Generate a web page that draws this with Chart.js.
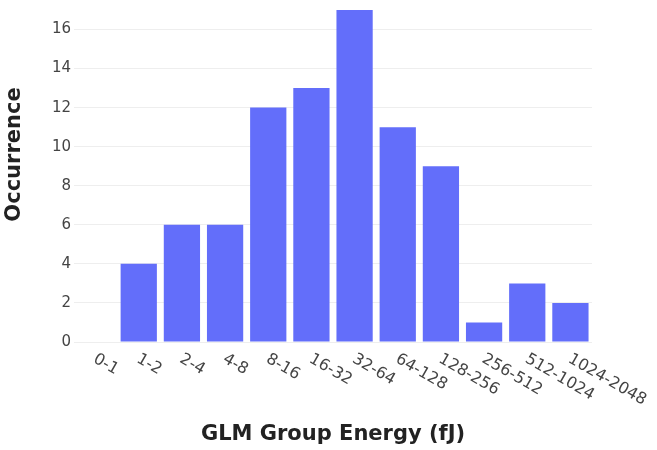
<!DOCTYPE html>
<html>
<head>
<meta charset="utf-8">
<script src="https://cdn.jsdelivr.net/npm/chart.js@4"></script>
<style>
  html, body { margin: 0; padding: 0; background: #fff; }
  #wrap { width: 657px; height: 450px; position: relative; }
</style>
</head>
<body>
<div id="wrap"><canvas id="c" width="657" height="450"></canvas></div>
<script>
const categories = ["0-1", "1-2", "2-4", "4-8", "8-16", "16-32", "32-64", "64-128", "128-256", "256-512", "512-1024", "1024-2048"];
const occurrence = [0, 4, 6, 6, 12, 13, 17, 11, 9, 1, 3, 2];
const yTicks = [0, 2, 4, 6, 8, 10, 12, 14, 16];
const xTitle = "GLM Group Energy (fJ)";
const yTitle = "Occurrence";

const FONT = "'DejaVu Sans', Verdana, sans-serif";

// Draws the rotated category labels and the y title (the original plot is cropped at the top,
// so the y title sits centred on the uncropped plot height).
const extraText = {
  id: 'extraText',
  afterDraw(chart) {
    const ctx = chart.ctx;
    const xs = chart.scales.x;
    const ys = chart.scales.y;
    const area = chart.chartArea;
    ctx.save();
    ctx.font = "16px " + FONT;
    ctx.fillStyle = "#444";
    ctx.textAlign = "left";
    ctx.textBaseline = "middle";
    categories.forEach((lab, i) => {
      const x = xs.getPixelForValue(i) - 1;
      const y = area.bottom + 16;
      ctx.save();
      ctx.translate(x, y);
      ctx.rotate(Math.PI / 6);
      ctx.fillText(lab, 0, 0);
      ctx.restore();
    });
    ctx.font = "bold 21px " + FONT;
    ctx.fillStyle = "#222";
    ctx.textAlign = "center";
    ctx.translate(ys.left + 15, ys.getPixelForValue(9.6));
    ctx.rotate(-Math.PI / 2);
    ctx.fillText(yTitle, 0, 0);
    ctx.restore();
  }
};

new Chart(document.getElementById('c'), {
  type: 'bar',
  data: {
    labels: categories,
    datasets: [{
      data: occurrence,
      backgroundColor: '#636efa',
      borderWidth: 0,
      barPercentage: 0.84,
      categoryPercentage: 1.0
    }]
  },
  options: {
    responsive: false,
    animation: false,
    devicePixelRatio: 1,
    layout: { padding: { top: 8, right: 65, bottom: 3, left: 0 } },
    plugins: { legend: { display: false }, tooltip: { enabled: false } },
    scales: {
      x: {
        grid: { display: false },
        border: { display: false },
        ticks: { display: false },
        title: {
          display: true,
          text: xTitle,
          color: '#222',
          font: { family: FONT, size: 21, weight: 'bold' },
          padding: { top: 0, bottom: 0 }
        },
        afterFit(scale) { scale.height = 105; scale.paddingLeft = 0; scale.paddingRight = 0; }
      },
      y: {
        min: 0,
        max: 17.1,
        afterBuildTicks(scale) { scale.ticks = yTicks.map(v => ({ value: v })); },
        grid: { color: '#eeeeee', lineWidth: 1, drawTicks: false },
        border: { display: false },
        ticks: {
          color: '#444',
          padding: 3,
          font: { family: FONT, size: 15 }
        },
        title: { display: false, text: yTitle },
        afterFit(scale) { scale.width = 74; scale.paddingTop = 0; scale.paddingBottom = 0; }
      }
    }
  },
  plugins: [extraText]
});
</script>
</body>
</html>
